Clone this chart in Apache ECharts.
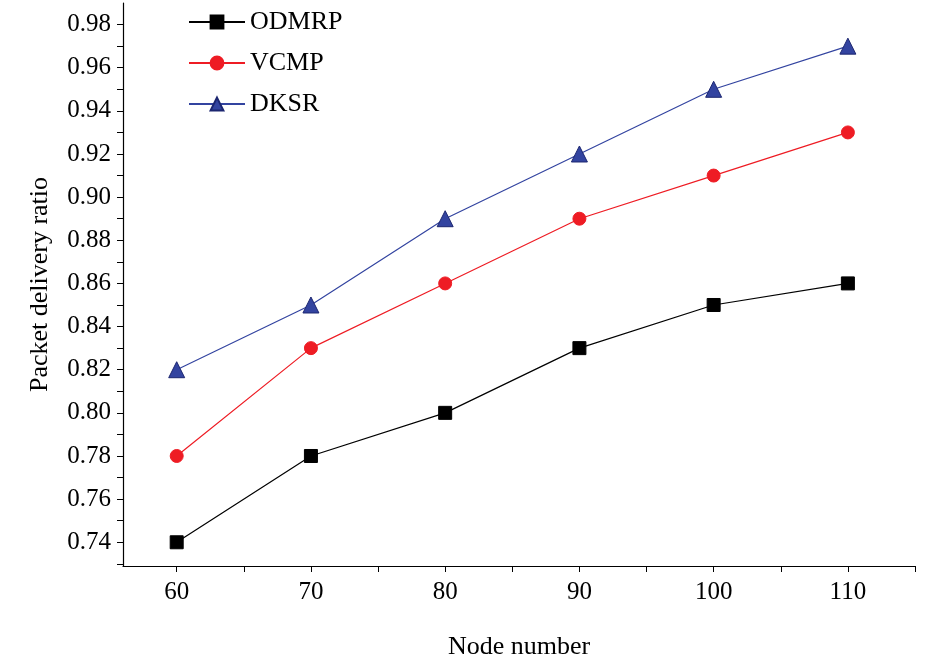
<!DOCTYPE html>
<html><head><meta charset="utf-8">
<script src="https://cdn.jsdelivr.net/npm/echarts@6/dist/echarts.min.js"></script>
<style>html,body{margin:0;background:#fff}#c{width:945px;height:666px}</style>
</head><body><div id="c"></div>
<script>
const nodes = [60, 70, 80, 90, 100, 110];
const odmrp = [0.74, 0.78, 0.80, 0.83, 0.85, 0.86];
const vcmp = [0.78, 0.83, 0.86, 0.89, 0.91, 0.93];
const dksr = [0.82, 0.85, 0.89, 0.92, 0.95, 0.97];
const xLabels = [60, 70, 80, 90, 100, 110];
const xTicks = [60, 65, 70, 75, 80, 85, 90, 95, 100, 105, 110, 115];
const yLabels = [0.74, 0.76, 0.78, 0.80, 0.82, 0.84, 0.86, 0.88, 0.90, 0.92, 0.94, 0.96, 0.98];
const yTicks = [];
for (let i = 0; i <= 25; i++) yTicks.push(+(0.73 + i * 0.01).toFixed(2));

const font = "'Liberation Serif', 'Times New Roman', serif";
const chart = echarts.init(document.getElementById("c"));

function pairs(ys) {
  return nodes.map((x, i) => [x, ys[i]]);
}

function line(name, ys, color, symbol, size) {
  return {
    name: name, type: "line", data: pairs(ys),
    symbol: symbol, symbolSize: size,
    lineStyle: { color: color, width: 1.2 },
    itemStyle: { color: color, borderColor: color === "#3344a0" ? "#1c2670" : color, borderWidth: 1 },
  };
}

chart.setOption({
  animation: false,
  grid: { left: 123, right: 30, top: 3, bottom: 100 },
  legend: {
    orient: "vertical", left: 183, top: 4, itemWidth: 56, itemHeight: 16, itemGap: 15,
    textStyle: { fontFamily: font, fontSize: 26, color: "#000" },
    data: ["ODMRP", "VCMP", "DKSR"],
  },
  xAxis: {
    type: "value", min: 56, max: 115,
    name: "Node number", nameLocation: "middle", nameGap: 68,
    nameTextStyle: { fontFamily: font, fontSize: 26, color: "#000" },
    axisLine: { lineStyle: { color: "#000", width: 1.2 } },
    axisTick: { customValues: xTicks, length: 6, lineStyle: { color: "#000" } },
    axisLabel: { customValues: xLabels, fontFamily: font, fontSize: 25, color: "#000", margin: 14 },
    splitLine: { show: false },
  },
  yAxis: {
    type: "value", min: 0.729, max: 0.99,
    name: "Packet delivery ratio", nameLocation: "middle", nameGap: 70,
    nameTextStyle: { fontFamily: font, fontSize: 26, color: "#000" },
    axisLine: { show: true, lineStyle: { color: "#000", width: 1.2 } },
    axisTick: { show: true, customValues: yTicks, length: 6, lineStyle: { color: "#000" } },
    axisLabel: { customValues: yLabels, fontFamily: font, fontSize: 25, color: "#000", margin: 12,
      formatter: v => v.toFixed(2) },
    splitLine: { show: false },
  },
  series: [
    line("ODMRP", odmrp, "#000000", "rect", 13),
    line("VCMP", vcmp, "#ee1c24", "circle", 13),
    line("DKSR", dksr, "#3344a0", "triangle", 16),
  ],
});
</script></body></html>
